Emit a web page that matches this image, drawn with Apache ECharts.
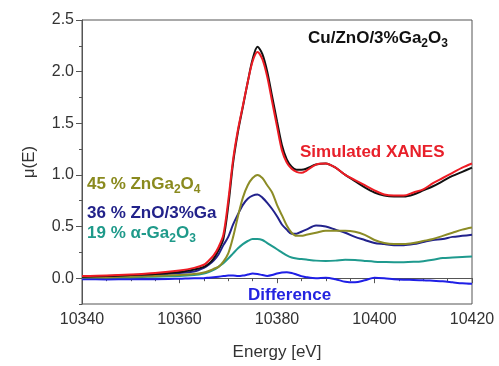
<!DOCTYPE html>
<html>
<head>
<meta charset="utf-8">
<script src="https://cdn.jsdelivr.net/npm/echarts@6/dist/echarts.min.js"></script>
<style>html,body{margin:0;padding:0;background:#fff}#c{width:499px;height:366px}</style>
</head>
<body>
<div id="c"></div>
<script>
var energies = [10340,10345,10350,10355,10360,10363,10365,10366,10367,10368,10369,10370,10371,10372,10373,10374,10375,10376,10377,10378,10379,10380,10381,10382,10383,10384,10385,10386,10388,10390,10392,10394,10396,10398,10400,10402,10404,10406,10408,10410,10412,10414,10416,10418,10420];
var experiment = [0.015,0.02,0.03,0.04,0.06,0.085,0.11,0.14,0.19,0.27,0.38,0.70,1.12,1.42,1.66,1.90,2.12,2.24,2.17,2.00,1.76,1.52,1.29,1.15,1.08,1.05,1.05,1.06,1.10,1.11,1.07,1.00,0.94,0.88,0.83,0.80,0.79,0.79,0.81,0.85,0.89,0.94,0.99,1.03,1.07];
var simulated = [0.02,0.025,0.035,0.05,0.075,0.10,0.13,0.17,0.22,0.30,0.42,0.75,1.15,1.44,1.67,1.90,2.10,2.19,2.12,1.95,1.71,1.47,1.24,1.12,1.06,1.03,1.02,1.04,1.10,1.11,1.07,1.00,0.95,0.90,0.85,0.81,0.80,0.80,0.83,0.86,0.92,0.97,1.02,1.07,1.11];
var znga2o4 = [0.01,0.01,0.015,0.02,0.03,0.04,0.055,0.07,0.09,0.11,0.16,0.24,0.40,0.60,0.78,0.90,0.97,1.00,0.97,0.90,0.83,0.71,0.61,0.51,0.44,0.41,0.41,0.42,0.44,0.46,0.46,0.46,0.45,0.42,0.37,0.34,0.33,0.33,0.34,0.36,0.38,0.41,0.44,0.47,0.49];
var znoga = [0.02,0.022,0.028,0.035,0.05,0.065,0.10,0.13,0.17,0.23,0.32,0.40,0.52,0.62,0.71,0.77,0.80,0.81,0.78,0.73,0.67,0.60,0.52,0.47,0.43,0.43,0.45,0.47,0.51,0.50,0.47,0.44,0.40,0.37,0.34,0.33,0.32,0.32,0.33,0.35,0.37,0.38,0.40,0.41,0.42];
var ga2o3 = [0.01,0.01,0.01,0.015,0.02,0.03,0.045,0.06,0.08,0.11,0.145,0.19,0.24,0.29,0.33,0.36,0.38,0.38,0.37,0.34,0.31,0.28,0.25,0.22,0.20,0.19,0.185,0.18,0.17,0.167,0.17,0.178,0.175,0.167,0.16,0.157,0.155,0.155,0.158,0.165,0.178,0.195,0.20,0.205,0.21];
var difference = [-0.01,-0.012,-0.01,-0.01,-0.005,0.0,0.0,0.005,0.01,0.015,0.02,0.025,0.025,0.02,0.025,0.035,0.045,0.04,0.03,0.022,0.03,0.045,0.055,0.058,0.05,0.035,0.02,0.01,0.0,0.005,-0.01,-0.035,-0.04,-0.02,0.005,0.0,-0.01,-0.015,-0.017,-0.02,-0.025,-0.03,-0.04,-0.05,-0.055];
var yLabelValues = [0,0.5,1.0,1.5,2.0,2.5];

function pairs(arr){ return energies.map(function(e,i){ return [e, arr[i]]; }); }
function line(name, arr, color, w){
  return {name:name, type:'line', data:pairs(arr), smooth:0.3, symbol:'none',
    lineStyle:{color:color, width:w||2}, itemStyle:{color:color}, z:2};
}
var chart = echarts.init(document.getElementById('c'));
var tickFont = {fontFamily:'Arial, Liberation Sans', fontSize:16, color:'#333'};
function richFor(color){
  return {
    a:{fontFamily:'Arial, Liberation Sans', fontWeight:'bold', fontSize:17, fill:color},
    s:{fontFamily:'Arial, Liberation Sans', fontWeight:'bold', fontSize:12, fill:color, padding:[12,0,0,0]}
  };
}
chart.setOption({
  animation:false,
  backgroundColor:'#fff',
  grid:{left:82, right:27, top:20, bottom:59, show:true, borderColor:'#555', borderWidth:1},
  xAxis:{type:'value', min:10340, max:10420, interval:20,
    name:'Energy [eV]', nameLocation:'middle', nameGap:40,
    nameTextStyle:{fontFamily:'Arial, Liberation Sans', fontSize:17, color:'#333'},
    axisLine:{lineStyle:{color:'#555', width:1}},
    axisTick:{length:5, lineStyle:{color:'#555'}},
    minorTick:{show:true, splitNumber:4, length:3, lineStyle:{color:'#555'}},
    axisLabel:Object.assign({margin:8, formatter:function(v){return String(v);}}, tickFont),
    splitLine:{show:false}},
  yAxis:[
    {type:'value', min:-0.25, max:2.5, interval:0.25,
      axisLine:{show:true, lineStyle:{color:'#555', width:1}},
      axisTick:{show:true, length:3, lineStyle:{color:'#555'}},
      axisLabel:{show:false}, splitLine:{show:false}},
    {type:'value', min:-0.25, max:2.5, position:'left',
      name:'\u03bc(E)', nameLocation:'middle', nameGap:44,
      nameTextStyle:{fontFamily:'Arial, Liberation Sans', fontSize:17, color:'#333'},
      axisLine:{show:false},
      axisTick:{show:true, length:6, customValues:yLabelValues, lineStyle:{color:'#555'}},
      axisLabel:Object.assign({customValues:yLabelValues, margin:8, formatter:function(v){return v.toFixed(1);}}, tickFont),
      splitLine:{show:false}}
  ],
  series:[
    line('Difference', difference, '#1f1fe6', 2),
    line('19 % a-Ga2O3', ga2o3, '#1f9a8e', 2),
    line('36 % ZnO/3%Ga', znoga, '#22228c', 2),
    line('45 % ZnGa2O4', znga2o4, '#8c8c26', 2),
    line('Experiment', experiment, '#111111', 2),
    line('Simulated XANES', simulated, '#ee1c24', 2)
  ],
  graphic:[
    {type:'text', x:308, y:38, style:{text:'{a|Cu/ZnO/3%Ga}{s|2}{a|O}{s|3}', rich:richFor('#111'), fill:'#111', verticalAlign:'middle'}},
    {type:'text', x:300, y:152, style:{text:'Simulated XANES', fill:'#e8202a', verticalAlign:'middle', font:'bold 17px Arial, Liberation Sans'}},
    {type:'text', x:87, y:184, style:{text:'{a|45 % ZnGa}{s|2}{a|O}{s|4}', rich:richFor('#8a8a1e'), fill:'#8a8a1e', verticalAlign:'middle'}},
    {type:'text', x:87, y:213, style:{text:'{a|36 % ZnO/3%Ga}', rich:richFor('#22228a'), fill:'#22228a', verticalAlign:'middle'}},
    {type:'text', x:87, y:233, style:{text:'{a|19 % \u03b1-Ga}{s|2}{a|O}{s|3}', rich:richFor('#1f9a8a'), fill:'#1f9a8a', verticalAlign:'middle'}},
    {type:'text', x:248, y:295, style:{text:'Difference', fill:'#2424e0', verticalAlign:'middle', font:'bold 17px Arial, Liberation Sans'}}
  ]
});
</script>
</body>
</html>
